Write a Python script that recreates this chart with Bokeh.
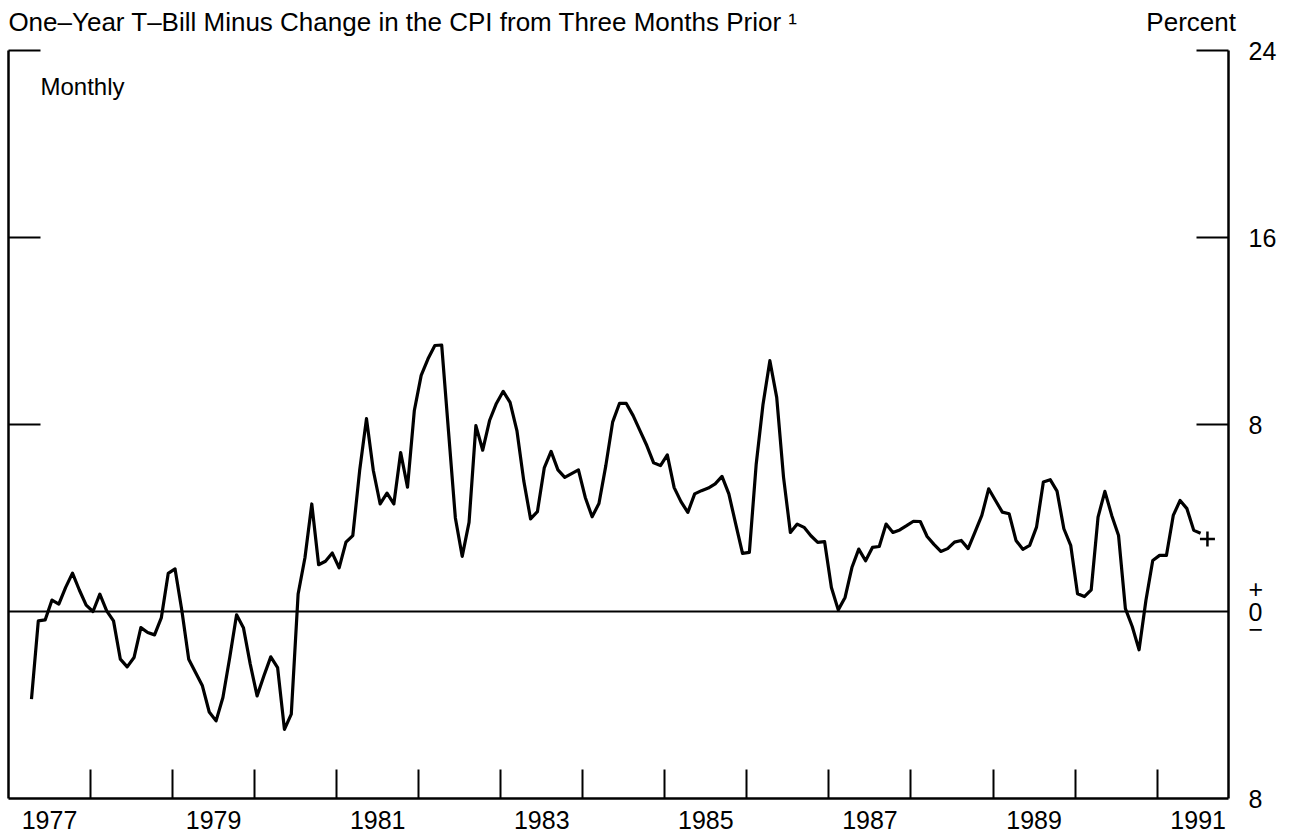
from bokeh.plotting import figure
from bokeh.models import FixedTicker, LinearAxis, Span, Label, ColumnDataSource
from bokeh.embed import file_html
from bokeh.resources import INLINE

FONT = "Liberation Sans"

# ---- data (percent, monthly; series starts April 1977) ----
start_month_1977 = 4
v1977 = [-3.75, -0.40, -0.36, 0.49, 0.32, 1.03, 1.64, 0.92, 0.27]
v1978 = [0.00, 0.74, 0.03, -0.40, -2.04, -2.37, -1.97, -0.69, -0.90, -1.00, -0.26, 1.63]
v1979 = [1.82, 0.03, -2.04, -2.61, -3.18, -4.30, -4.68, -3.68, -1.97, -0.14, -0.69, -2.25]
v1980 = [-3.61, -2.75, -1.94, -2.40, -5.04, -4.39, 0.75, 2.30, 4.60, 2.00, 2.15, 2.50]
v1981 = [1.87, 2.97, 3.25, 6.03, 8.25, 6.03, 4.60, 5.06, 4.60, 6.80, 5.32, 8.60]
v1982 = [10.10, 10.81, 11.38, 11.40, 7.70, 4.00, 2.36, 3.81, 7.95, 6.90, 8.17, 8.90]
v1983 = [9.42, 8.95, 7.74, 5.60, 3.96, 4.27, 6.14, 6.85, 6.06, 5.74, 5.90, 6.06]
v1984 = [4.88, 4.05, 4.62, 6.23, 8.10, 8.90, 8.90, 8.38, 7.74, 7.10, 6.36, 6.24]
v1985 = [6.70, 5.30, 4.70, 4.24, 5.03, 5.17, 5.28, 5.46, 5.78, 5.03, 3.75, 2.49]
v1986 = [2.53, 6.30, 8.87, 10.73, 9.16, 5.74, 3.38, 3.74, 3.60, 3.24, 2.96, 2.99]
v1987 = [1.03, 0.07, 0.60, 1.88, 2.67, 2.17, 2.74, 2.78, 3.74, 3.38, 3.49, 3.67]
v1988 = [3.86, 3.85, 3.21, 2.87, 2.57, 2.69, 2.97, 3.04, 2.69, 3.40, 4.11, 5.25]
v1989 = [4.75, 4.25, 4.18, 3.04, 2.66, 2.83, 3.61, 5.54, 5.64, 5.15, 3.54, 2.83]
v1990 = [0.76, 0.64, 0.93, 4.04, 5.14, 4.11, 3.25, 0.12, -0.64, -1.64, 0.47, 2.18]
v1991 = [2.40, 2.40, 4.11, 4.75, 4.40, 3.47, 3.35]
latest_year, latest_month, latest_value = 1991, 8, 3.10   # "+" marker

years = list(range(1977, 1992))
series = [v1977, v1978, v1979, v1980, v1981, v1982, v1983, v1984,
          v1985, v1986, v1987, v1988, v1989, v1990, v1991]

x_label_years = [1977, 1979, 1981, 1983, 1985, 1987, 1989, 1991]
x_tick_years = list(range(1978, 1992))
y_label_values = [-8, -0.77, 0, 0.98, 8, 16, 24]
y_label_texts = ["8", "\u2212", "0", "+", "8", "16", "24"]
y_tick_values = [8, 16, 24]

TITLE = "One\u2013Year T\u2013Bill Minus Change in the CPI from Three Months Prior \u00b9"
UNIT = "Percent"
NOTE = "Monthly"
TITLE_CENTER = 1981.81      # x at which the title text is centred
UNIT_CENTER = 1991.415      # x at which "Percent" is centred

# ---- build monthly x positions ----
MONTH_SHIFT = 0.03
xs, ys = [], []
for yr, vals in zip(years, series):
    m0 = start_month_1977 if yr == 1977 else 1
    for j, v in enumerate(vals):
        xs.append(yr + (m0 + j - 1) / 12 + MONTH_SHIFT)
        ys.append(v)
src = ColumnDataSource(dict(x=xs, y=ys))

X0, X1 = 1977.0, 1991.87
p = figure(width=1288, height=838, x_range=(X0, X1), y_range=(-8, 24),
           output_backend="svg", toolbar_location=None, y_axis_location="right",
           min_border_left=8, min_border_right=60, min_border_top=50, min_border_bottom=40,
           background_fill_color="white", border_fill_color="white")
p.outline_line_color = None
p.grid.visible = False

# bottom axis: year labels centred in the year, tick marks at year starts
xa = p.xaxis[0]
xa.ticker = FixedTicker(ticks=[y + 0.5 for y in x_label_years], minor_ticks=x_tick_years)
xa.major_label_overrides = {y + 0.5: str(y) for y in x_label_years}
xa.major_tick_in = 0
xa.major_tick_out = 0
xa.minor_tick_in = 29
xa.minor_tick_out = 0
xa.minor_tick_line_width = 2
xa.minor_tick_line_color = "black"
xa.axis_line_width = 2.5
xa.axis_line_color = "black"
xa.major_label_text_font = FONT
xa.major_label_text_font_size = "25px"
xa.major_label_text_color = "black"
xa.major_label_standoff = 12

# right axis
ya = p.yaxis[0]
ya.ticker = FixedTicker(ticks=y_label_values, minor_ticks=y_tick_values)
ya.major_label_overrides = {v: t for v, t in zip(y_label_values, y_label_texts)}
ya.major_tick_in = 0
ya.major_tick_out = 0
ya.minor_tick_in = 32
ya.minor_tick_out = 0
ya.minor_tick_line_width = 2
ya.minor_tick_line_color = "black"
ya.axis_line_width = 2.5
ya.axis_line_color = "black"
ya.major_label_text_font = FONT
ya.major_label_text_font_size = "25px"
ya.major_label_text_color = "black"
ya.major_label_standoff = 20

# left axis: line and inward ticks only
la = LinearAxis(ticker=FixedTicker(ticks=[], minor_ticks=y_tick_values))
la.major_tick_in = 0
la.major_tick_out = 0
la.minor_tick_in = 32
la.minor_tick_out = 0
la.minor_tick_line_width = 2
la.minor_tick_line_color = "black"
la.axis_line_width = 2.5
la.axis_line_color = "black"
la.major_label_text_font_size = "0px"
la.major_label_standoff = 0
p.add_layout(la, "left")

# top texts (title and unit) carried by an unlined axis above the frame
ta = LinearAxis(ticker=FixedTicker(ticks=[TITLE_CENTER, UNIT_CENTER]))
ta.major_label_overrides = {TITLE_CENTER: TITLE, UNIT_CENTER: UNIT}
ta.axis_line_color = None
ta.major_tick_line_color = None
ta.minor_tick_line_color = None
ta.major_tick_in = 0
ta.major_tick_out = 0
ta.major_label_text_font = FONT
ta.major_label_text_font_size = "26px"
ta.major_label_text_color = "black"
ta.major_label_standoff = 14
p.add_layout(ta, "above")

# zero line
p.add_layout(Span(location=0, dimension="width", line_color="black", line_width=2))

# data
p.line("x", "y", source=src, line_color="black", line_width=3.2, line_join="round")
p.scatter([latest_year + (latest_month - 1) / 12 + MONTH_SHIFT], [latest_value],
          marker="cross", size=15, line_color="black", line_width=2.5)

# note inside the frame
p.add_layout(Label(x=X0, y=24, x_offset=32, y_offset=-36, text=NOTE, text_font=FONT,
                   text_font_size="24px", text_baseline="middle", text_align="left",
                   text_color="black"))

open("out.html", "w").write(file_html(p, INLINE))
